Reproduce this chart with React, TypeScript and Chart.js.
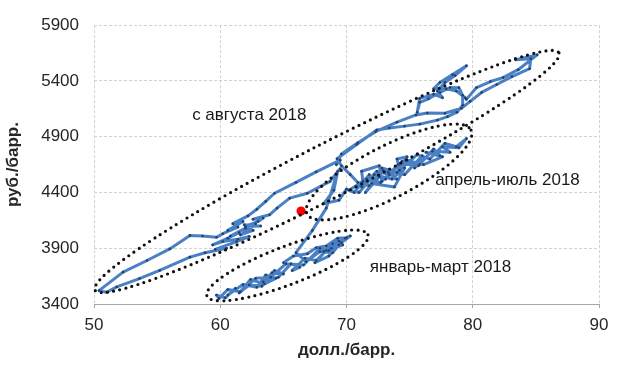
import React, { useEffect, useRef } from "react";
import { Chart, registerables } from "chart.js";

Chart.register(...registerables);

type Pair = [number, number]; // [USD per barrel, RUB per barrel]

const JAN_MAR_2018: Pair[] = [
  [65.0, 3770], [65.8, 3830], [66.9, 3850], [67.6, 3905], [68.4, 3920], [69.3, 3990], [70.0, 3995], [70.3, 4010],
  [69.6, 3950], [69.9, 3990], [68.8, 3900], [69.4, 3965], [68.2, 3870], [68.9, 3940], [69.7, 3930], [68.6, 3880],
  [67.9, 3900], [66.6, 3750], [65.2, 3760], [64.0, 3640], [62.8, 3630], [61.6, 3510], [60.6, 3530], [59.9, 3450],
  [59.7, 3480], [60.4, 3455], [61.2, 3540], [60.6, 3480], [61.8, 3575], [62.9, 3550], [63.6, 3660], [64.4, 3630],
  [63.5, 3580], [62.4, 3620], [61.5, 3500], [62.3, 3570], [63.3, 3560], [64.1, 3680], [65.0, 3670], [64.3, 3700],
  [63.4, 3600], [64.6, 3640], [65.6, 3760], [66.3, 3730], [65.7, 3700], [66.7, 3810], [67.6, 3790], [68.4, 3880],
  [67.5, 3770], [68.6, 3830], [69.4, 3930], [68.9, 3860], [67.9, 3870], [66.8, 3780], [66.0, 3860],
];

const APR_JUL_2018: Pair[] = [
  [67.3, 4060], [68.4, 4260], [69.3, 4590], [69.0, 4420], [68.2, 4300], [69.4, 4330], [70.0, 4430], [70.6, 4400],
  [71.8, 4560], [71.2, 4450], [72.4, 4590], [73.4, 4560], [72.8, 4620], [74.0, 4580], [74.8, 4720], [74.0, 4700],
  [74.2, 4600], [75.6, 4740], [76.6, 4700], [77.8, 4840], [78.7, 4810], [79.5, 4883], [78.9, 4800], [77.6, 4810],
  [78.2, 4760], [76.8, 4770], [75.4, 4620], [76.0, 4730], [74.6, 4560], [73.3, 4580], [74.0, 4520], [72.6, 4540],
  [71.5, 4400], [72.0, 4480], [73.8, 4450], [74.6, 4620], [73.6, 4520], [72.2, 4560], [71.0, 4400], [70.2, 4420],
  [71.3, 4500], [71.2, 4590], [72.6, 4640], [72.8, 4500], [74.3, 4660], [75.7, 4640], [76.9, 4790], [77.4, 4730],
  [76.3, 4760], [77.6, 4720], [76.1, 4650], [74.8, 4690], [75.8, 4650], [74.4, 4680], [73.1, 4520], [74.1, 4650],
  [72.7, 4490], [71.6, 4520], [72.9, 4600], [71.8, 4460], [70.9, 4490],
];

const AUG_DEC_2018: Pair[] = [
  [70.3, 4560], [69.6, 4640], [69.25, 4703], [70.8, 4830], [72.4, 4960], [73.4, 4978], [74.6, 4995], [75.8, 5013],
  [77.2, 5049], [78.0, 5080], [78.75, 5120], [79.2, 5182], [79.2, 5271], [78.9, 5340], [78.2, 5341], [77.4, 5297],
  [76.5, 5240], [75.8, 5208], [75.6, 5120], [75.8, 5244], [76.9, 5280], [77.6, 5250], [77.2, 5310], [77.8, 5386],
  [78.6, 5448], [79.5, 5536], [78.4, 5457], [77.4, 5386], [76.9, 5330], [77.9, 5330], [78.7, 5310], [79.4, 5250],
  [79.5, 5235], [80.3, 5341], [81.4, 5395], [82.4, 5430], [83.6, 5501], [85.1, 5634], [83.4, 5590], [84.6, 5600],
  [84.5, 5510], [83.1, 5439], [81.9, 5368], [80.7, 5297], [79.8, 5217], [79.1, 5155], [77.8, 5110], [76.4, 5112],
  [75.5, 5095], [74.0, 5030], [72.3, 4945], [70.9, 4845], [69.6, 4745], [69.2, 4650], [69.5, 4690], [67.6, 4585],
  [66.0, 4490], [64.3, 4393], [63.6, 4320], [62.9, 4250], [62.2, 4190], [61.0, 4120], [61.8, 4140], [60.6, 4060],
  [61.4, 4090], [60.2, 4030], [59.7, 3998], [58.6, 4010], [57.6, 4015], [56.0, 3894], [54.2, 3790], [52.3, 3686],
  [50.4, 3520], [51.0, 3505], [51.8, 3553],
];

const JAN_APR_2019: Pair[] = [
  [53.6, 3628], [55.2, 3701], [57.6, 3820], [58.8, 3860], [60.5, 3900], [59.6, 3890], [61.3, 3960], [62.3, 4005],
  [61.4, 3980], [60.2, 3960], [59.4, 3930], [60.6, 3990], [61.5, 4040], [60.8, 4010], [62.0, 4080], [62.8, 4120],
  [61.6, 4020], [62.6, 4060], [61.9, 4110], [63.2, 4100], [62.0, 4095], [63.0, 4140], [63.4, 4171], [62.6, 4160],
  [63.9, 4200], [64.5, 4260], [65.5, 4349], [66.9, 4393], [68.7, 4499], [69.5, 4615],
];

const MARKED_POINT: Pair[] = [[66.4, 4233]];

const X_MIN = 50;
const X_MAX = 90;
const X_STEP = 10;
const Y_MIN = 3400;
const Y_MAX = 5900;
const Y_STEP = 500;

const X_TITLE = "долл./барр.";
const Y_TITLE = "руб./барр.";

// Period labels, anchored in data units
const LABEL_TEXTS = ["с августа 2018", "апрель-июль 2018", "январь-март 2018"];
const LABEL_USD = [62.3, 82.75, 77.45];
const LABEL_RUB = [5093, 4508, 3728];

// Period ovals: ends of the long axis, in data units
const OVAL_USD_1 = [50.08, 66.87, 58.95];
const OVAL_RUB_1 = [3524, 4207, 3471];
const OVAL_USD_2 = [86.83, 79.86, 71.7];
const OVAL_RUB_2 = [5652, 4960, 4021];

const FONT = '"Liberation Sans", Arial, sans-serif';
const TEXT_COLOR = "#262626";

const overlayPlugin = {
  id: "periodOverlay",
  afterDatasetsDraw(chart: any) {
    const { ctx, scales } = chart;
    const xs = scales.x;
    const ys = scales.y;
    const halfMinor = [27, 26, 19];
    ctx.save();
    ctx.strokeStyle = "#111111";
    ctx.lineWidth = 3.2;
    ctx.lineCap = "round";
    ctx.setLineDash([0, 6.3]);
    for (let i = 0; i < OVAL_USD_1.length; i++) {
      const x1 = xs.getPixelForValue(OVAL_USD_1[i]);
      const y1 = ys.getPixelForValue(OVAL_RUB_1[i]);
      const x2 = xs.getPixelForValue(OVAL_USD_2[i]);
      const y2 = ys.getPixelForValue(OVAL_RUB_2[i]);
      const cx = (x1 + x2) / 2;
      const cy = (y1 + y2) / 2;
      const a = Math.hypot(x2 - x1, y2 - y1) / 2;
      const ang = Math.atan2(y2 - y1, x2 - x1);
      ctx.beginPath();
      ctx.ellipse(cx, cy, a, halfMinor[i], ang, 0, Math.PI * 2);
      ctx.stroke();
    }
    ctx.setLineDash([]);
    ctx.fillStyle = "#1a1a1a";
    ctx.font = `17px ${FONT}`;
    ctx.textAlign = "center";
    ctx.textBaseline = "middle";
    for (let i = 0; i < LABEL_TEXTS.length; i++) {
      ctx.fillText(LABEL_TEXTS[i], xs.getPixelForValue(LABEL_USD[i]), ys.getPixelForValue(LABEL_RUB[i]));
    }
    ctx.restore();
  },
};

export default function App() {
  const canvasRef = useRef<HTMLCanvasElement | null>(null);

  useEffect(() => {
    document.body.style.margin = "0";
    const canvas = canvasRef.current;
    if (!canvas) return;
    const path = [...JAN_MAR_2018, ...APR_JUL_2018, ...AUG_DEC_2018, ...JAN_APR_2019].map(([x, y]) => ({ x, y }));
    const marked = MARKED_POINT.map(([x, y]) => ({ x, y }));

    const chart = new Chart(canvas, {
      type: "scatter",
      data: {
        datasets: [
          {
            label: "marked",
            data: marked,
            showLine: false,
            pointRadius: 4.6,
            pointBackgroundColor: "#ff0000",
            pointBorderWidth: 0,
            order: 0,
          },
          {
            label: "path",
            data: path,
            showLine: true,
            borderColor: "#4A80C4",
            borderWidth: 3,
            borderJoinStyle: "round",
            pointRadius: 1.3,
            pointBackgroundColor: "#22406b",
            pointBorderWidth: 0,
            tension: 0,
            order: 1,
          },
        ],
      },
      options: {
        responsive: false,
        animation: false,
        devicePixelRatio: 1,
        layout: { padding: { left: 0, right: 21, top: 22, bottom: 0 } },
        plugins: { legend: { display: false }, tooltip: { enabled: false } },
        scales: {
          x: {
            type: "linear",
            min: X_MIN,
            max: X_MAX,
            afterFit: (s: any) => {
              s.height = 65;
            },
            grid: { color: "#d2d2d2", tickLength: 4, tickColor: "#a6a6a6", drawTicks: true },
            border: { display: true, color: "#a6a6a6", width: 1, dash: [3, 2] },
            ticks: {
              stepSize: X_STEP,
              padding: 7,
              color: TEXT_COLOR,
              font: { family: FONT, size: 17 },
              callback: (v: any) => String(v),
            },
            title: {
              display: true,
              text: X_TITLE,
              color: TEXT_COLOR,
              font: { family: FONT, size: 17, weight: "bold" },
              padding: { top: 0, bottom: 8 },
            },
          },
          y: {
            type: "linear",
            min: Y_MIN,
            max: Y_MAX,
            afterFit: (s: any) => {
              s.width = 94;
            },
            grid: {
              color: (c: any) => (c.tick && c.tick.value === Y_MIN ? "rgba(0,0,0,0)" : "#d2d2d2"),
              drawTicks: false,
            },
            border: { display: false, dash: [3, 2] },
            ticks: {
              stepSize: Y_STEP,
              padding: 15,
              color: TEXT_COLOR,
              font: { family: FONT, size: 17 },
              callback: (v: any) => String(v),
            },
            title: {
              display: true,
              text: Y_TITLE,
              color: TEXT_COLOR,
              font: { family: FONT, size: 17, weight: "bold" },
              padding: { top: 3, bottom: 0 },
            },
          },
        },
      },
      plugins: [overlayPlugin],
    } as any);

    return () => chart.destroy();
  }, []);

  return <canvas ref={canvasRef} width={620} height={369} style={{ display: "block" }} />;
}
